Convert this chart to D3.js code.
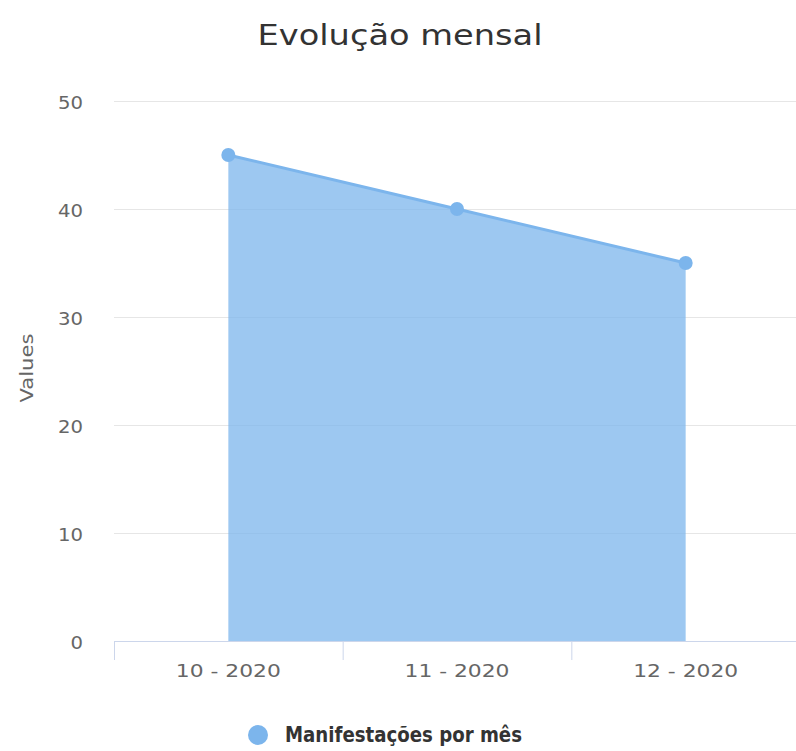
<!DOCTYPE html>
<html><head><meta charset="utf-8">
<script src="https://cdn.jsdelivr.net/npm/d3@7"></script>
<style>body{margin:0;background:#fff}svg{display:block}text{font-family:"DejaVu Sans",sans-serif}</style>
</head><body>
<script>
const categories = ["10 - 2020", "11 - 2020", "12 - 2020"];
const values = [45, 40, 35];
const yTicks = [0, 10, 20, 30, 40, 50];
const seriesName = "Manifestações por mês";
const chartTitle = "Evolução mensal";
const yTitle = "Values";

const W = 796, H = 751;
const svg = d3.select("body").append("svg").attr("width", W).attr("height", H);
const pLeft = 114, pRight = 800, pTop = 101, pBottom = 641;

const x = d3.scaleBand().domain(categories).range([pLeft, pRight]);
const y = d3.scaleLinear().domain([0, 50]).range([pBottom, pTop]);
const cx = d => x(d) + x.bandwidth() / 2;

svg.append("text").attr("x", 400).attr("y", 45).attr("text-anchor", "middle")
  .attr("font-size", 28).attr("fill", "#333")
  .attr("textLength", 285).attr("lengthAdjust", "spacingAndGlyphs").text(chartTitle);

// grid
svg.append("g").selectAll("line").data(yTicks.filter(t => t > 0)).join("line")
  .attr("x1", pLeft).attr("x2", pRight).attr("y1", d => y(d) + 0.5).attr("y2", d => y(d) + 0.5)
  .attr("stroke", "#e6e6e6");

// y labels
svg.append("g").selectAll("text").data(yTicks).join("text")
  .attr("x", 83).attr("y", d => y(d) + 8).attr("text-anchor", "end")
  .attr("font-size", 18).attr("fill", "#666")
  .attr("textLength", d => String(d).length * 12.5).attr("lengthAdjust", "spacingAndGlyphs")
  .text(d => d);

svg.append("text").attr("transform", `translate(33,368) rotate(-90)`)
  .attr("text-anchor", "middle").attr("font-size", 18).attr("fill", "#666")
  .attr("textLength", 69).attr("lengthAdjust", "spacingAndGlyphs").text(yTitle);

// area
const data = categories.map((c, i) => ({c, v: values[i]}));
svg.append("path").datum(data)
  .attr("d", d3.area().x(d => cx(d.c)).y0(y(0)).y1(d => y(d.v)))
  .attr("fill", "#7cb5ec").attr("fill-opacity", 0.75);
svg.append("path").datum(data)
  .attr("d", d3.line().x(d => cx(d.c)).y(d => y(d.v)))
  .attr("fill", "none").attr("stroke", "#7cb5ec").attr("stroke-width", 3);
svg.append("g").selectAll("circle").data(data).join("circle")
  .attr("cx", d => cx(d.c)).attr("cy", d => y(d.v)).attr("r", 7).attr("fill", "#7cb5ec");

// x axis
svg.append("line").attr("x1", pLeft).attr("x2", pRight).attr("y1", pBottom + 0.5).attr("y2", pBottom + 0.5)
  .attr("stroke", "#ccd6eb");
svg.append("g").selectAll("line").data(categories).join("line")
  .attr("x1", d => x(d) + 0.5).attr("x2", d => x(d) + 0.5).attr("y1", pBottom).attr("y2", pBottom + 19)
  .attr("stroke", "#ccd6eb");
svg.append("g").selectAll("text").data(categories).join("text")
  .attr("x", d => cx(d)).attr("y", 677).attr("text-anchor", "middle")
  .attr("font-size", 18).attr("fill", "#666")
  .attr("textLength", 105).attr("lengthAdjust", "spacingAndGlyphs").text(d => d);

// legend
svg.append("circle").attr("cx", 258).attr("cy", 735).attr("r", 10).attr("fill", "#7cb5ec");
svg.append("text").attr("x", 285).attr("y", 742).attr("font-size", 21).attr("font-weight", "bold")
  .attr("fill", "#333").attr("textLength", 237).attr("lengthAdjust", "spacingAndGlyphs").text(seriesName);
</script>
</body></html>
